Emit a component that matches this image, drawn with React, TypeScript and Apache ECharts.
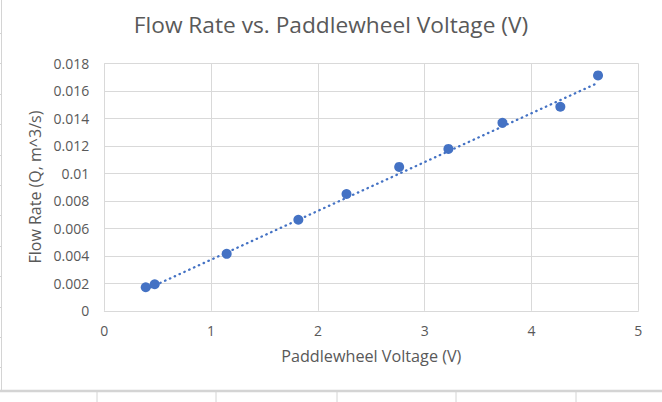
import React, { useEffect, useRef } from "react";
import * as echarts from "echarts";

// Measured points
const voltage = [0.388, 0.472, 1.146, 1.817, 2.268, 2.761, 3.222, 3.728, 4.27, 4.623];
const flowRate = [0.001713, 0.001932, 0.004141, 0.006621, 0.008494, 0.010463, 0.011776, 0.013671, 0.014838, 0.01712];

// Linear trendline endpoints
const trendVoltage = [0.388, 4.623];
const trendFlow = [0.001545, 0.01658];

const xTicks = [0, 1, 2, 3, 4, 5];
const yTicks = [0, 0.002, 0.004, 0.006, 0.008, 0.01, 0.012, 0.014, 0.016, 0.018];

const titleText = "Flow Rate vs. Paddlewheel Voltage (V)";
const xName = "Paddlewheel Voltage (V)";
const yName = "Flow Rate (Q, m^3/s)";

const FONT = "'Open Sans', 'Noto Sans', sans-serif";
const TEXT = "#595959";
const GRID = "#d9d9d9";
const BLUE = "#4472C4";

export default function App() {
  const ref = useRef<HTMLDivElement>(null);
  useEffect(() => {
    document.body.style.margin = "0";
    if (!ref.current) return;
    const chart = echarts.init(ref.current, undefined, { renderer: "svg" });

    const frame: any[] = [
      { type: "line", shape: { x1: 1.5, y1: 0, x2: 1.5, y2: 390 }, style: { stroke: "#d4d4d4", lineWidth: 1 }, silent: true },
      { type: "line", shape: { x1: 0, y1: 391, x2: 662, y2: 391 }, style: { stroke: "#d4d4d4", lineWidth: 2.5 }, silent: true },
    ];
    [97, 216, 337, 456, 576].forEach((x) =>
      frame.push({ type: "line", shape: { x1: x, y1: 392, x2: x, y2: 402 }, style: { stroke: "#d4d4d4", lineWidth: 1 }, silent: true })
    );
    for (let k = 0; k < 12; k++) {
      const y = Math.round(33 + 30.4 * k) + 0.5;
      frame.push({ type: "line", shape: { x1: 0, y1: y, x2: 2, y2: y }, style: { stroke: "#d4d4d4", lineWidth: 1 }, silent: true });
    }

    chart.setOption({
      animation: false,
      backgroundColor: "#ffffff",
      title: {
        text: titleText,
        left: "center",
        top: 8,
        textStyle: { fontFamily: FONT, fontSize: 22.7, fontWeight: "normal", color: TEXT },
      },
      grid: { left: 104.3, right: 23.7, top: 63.3, bottom: 91.2, containLabel: false, outerBoundsMode: "none" },
      xAxis: {
        type: "value",
        min: xTicks[0],
        max: xTicks[xTicks.length - 1],
        interval: 1,
        name: xName,
        nameLocation: "middle",
        nameGap: 37,
        nameTextStyle: { fontFamily: FONT, fontSize: 16.2, color: TEXT },
        axisLine: { show: true, lineStyle: { color: GRID, width: 1 } },
        axisTick: { show: false },
        axisLabel: { margin: 13, fontFamily: FONT, fontSize: 14, color: TEXT },
        splitLine: { show: true, lineStyle: { color: GRID, width: 1 } },
      },
      yAxis: {
        type: "value",
        min: yTicks[0],
        max: yTicks[yTicks.length - 1],
        interval: 0.002,
        name: yName,
        nameLocation: "middle",
        nameGap: 58,
        nameTextStyle: { fontFamily: FONT, fontSize: 16, color: TEXT },
        axisLine: { show: false },
        axisTick: { show: false },
        axisLabel: {
          margin: 15,
          fontFamily: FONT,
          fontSize: 14,
          color: TEXT,
          formatter: (v: number) => String(+v.toFixed(3)),
        },
        splitLine: { show: true, lineStyle: { color: GRID, width: 1 } },
      },
      graphic: frame,
      series: [
        {
          type: "scatter",
          data: voltage.map((x, i) => [x, flowRate[i]]),
          symbol: "circle",
          symbolSize: 10,
          itemStyle: { color: BLUE, opacity: 1 },
          z: 2,
        },
        {
          type: "line",
          data: trendVoltage.map((x, i) => [x, trendFlow[i]]),
          showSymbol: false,
          symbol: "none",
          lineStyle: { color: BLUE, width: 2.3, type: [0.5, 4.8], cap: "round" },
          z: 3,
        },
      ],
    });
    return () => chart.dispose();
  }, []);
  return <div ref={ref} style={{ width: 662, height: 402 }} />;
}
